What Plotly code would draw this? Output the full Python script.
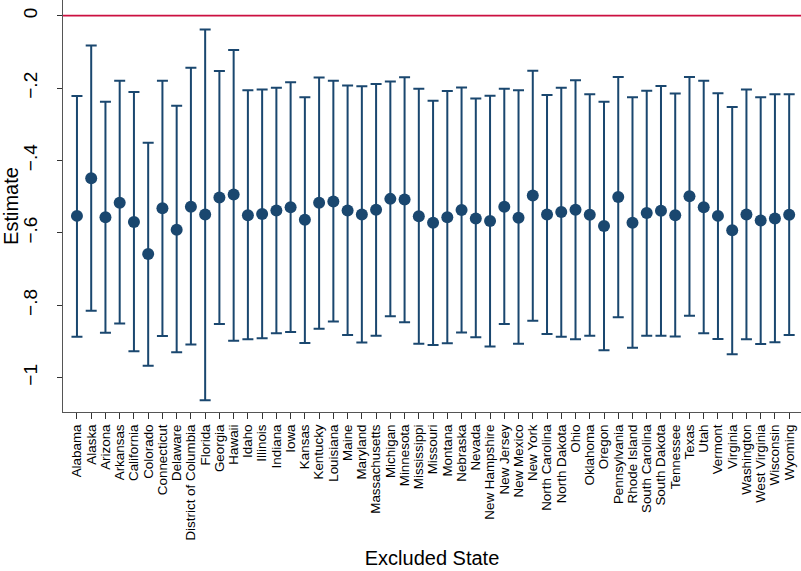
import plotly.graph_objects as go

# Leave-one-state-out estimates with 95% confidence intervals
states = [
    "Alabama", "Alaska", "Arizona", "Arkansas", "California", "Colorado",
    "Connecticut", "Delaware", "District of Columbia", "Florida", "Georgia",
    "Hawaii", "Idaho", "Illinois", "Indiana", "Iowa", "Kansas", "Kentucky",
    "Louisiana", "Maine", "Maryland", "Massachusetts", "Michigan", "Minnesota",
    "Mississippi", "Missouri", "Montana", "Nebraska", "Nevada", "New Hampshire",
    "New Jersey", "New Mexico", "New York", "North Carolina", "North Dakota",
    "Ohio", "Oklahoma", "Oregon", "Pennsylvania", "Rhode Island",
    "South Carolina", "South Dakota", "Tennessee", "Texas", "Utah", "Vermont",
    "Virginia", "Washington", "West Virginia", "Wisconsin", "Wyoming",
]

estimate = [
    -0.553, -0.449, -0.557, -0.517, -0.570, -0.658,
    -0.532, -0.591, -0.528, -0.549, -0.502,
    -0.494, -0.551, -0.548, -0.538, -0.529, -0.564, -0.517,
    -0.513, -0.538, -0.549, -0.536, -0.506, -0.508,
    -0.554, -0.572, -0.557, -0.537, -0.560, -0.567,
    -0.528, -0.558, -0.497, -0.549, -0.542,
    -0.536, -0.550, -0.581, -0.501, -0.572,
    -0.545, -0.539, -0.551, -0.499, -0.529, -0.553,
    -0.593, -0.549, -0.566, -0.560, -0.550,
]

ci_upper = [
    -0.222, -0.082, -0.238, -0.180, -0.211, -0.351,
    -0.180, -0.249, -0.144, -0.038, -0.153,
    -0.095, -0.206, -0.204, -0.199, -0.184, -0.225, -0.171,
    -0.180, -0.193, -0.195, -0.189, -0.182, -0.170,
    -0.202, -0.235, -0.208, -0.198, -0.229, -0.221,
    -0.202, -0.206, -0.152, -0.219, -0.199,
    -0.178, -0.217, -0.238, -0.169, -0.225,
    -0.207, -0.194, -0.215, -0.169, -0.180, -0.214,
    -0.252, -0.204, -0.225, -0.217, -0.217,
]

ci_lower = [
    -0.887, -0.815, -0.876, -0.850, -0.927, -0.967,
    -0.885, -0.930, -0.908, -1.062, -0.852,
    -0.898, -0.894, -0.891, -0.877, -0.874, -0.904, -0.865,
    -0.845, -0.882, -0.903, -0.884, -0.830, -0.847,
    -0.906, -0.910, -0.905, -0.875, -0.888, -0.914,
    -0.852, -0.906, -0.843, -0.879, -0.887,
    -0.894, -0.884, -0.924, -0.833, -0.917,
    -0.884, -0.884, -0.886, -0.829, -0.877, -0.893,
    -0.935, -0.894, -0.907, -0.902, -0.882,
]

y_tickvals = [0, -0.2, -0.4, -0.6, -0.8, -1]
y_ticktext = ["0", "\u2212.2", "\u2212.4", "\u2212.6", "\u2212.8", "\u22121"]

NAVY = "#1a476f"
CRANBERRY = "#cc1040"
FONT = "Liberation Sans, Arial, Helvetica, sans-serif"

err_plus = [u - e for u, e in zip(ci_upper, estimate)]
err_minus = [e - l for e, l in zip(estimate, ci_lower)]

fig = go.Figure()
fig.add_trace(go.Scatter(
    x=states,
    y=estimate,
    mode="markers",
    marker=dict(color=NAVY, size=12, line=dict(width=0)),
    error_y=dict(
        type="data",
        symmetric=False,
        array=err_plus,
        arrayminus=err_minus,
        color=NAVY,
        thickness=2,
        width=5.5,
    ),
    showlegend=False,
))

# Reference line at zero
fig.add_shape(
    type="line", xref="paper", yref="y",
    x0=0, x1=1, y0=0, y1=0,
    line=dict(color=CRANBERRY, width=1.8),
)

fig.update_layout(
    width=801,
    height=571,
    margin=dict(l=63, r=0, t=0, b=159, pad=0),
    paper_bgcolor="white",
    plot_bgcolor="white",
    font=dict(family=FONT, color="black"),
    xaxis=dict(
        type="category",
        range=[-0.98, 50.83],
        tickmode="linear",
        tick0=0,
        dtick=1,
        tickangle=-90,
        tickfont=dict(size=13.4),
        ticks="outside",
        ticklen=6,
        tickwidth=1,
        tickcolor="#333333",
        showline=True,
        linecolor="#555555",
        linewidth=1.2,
        showgrid=False,
        zeroline=False,
        title=dict(text="Excluded State", font=dict(size=20), standoff=11),
        automargin=False,
    ),
    yaxis=dict(
        range=[-1.0948, 0.0434],
        tickvals=y_tickvals,
        ticktext=y_ticktext,
        tickangle=-90,
        tickfont=dict(size=19),
        ticks="outside",
        ticklen=5,
        tickwidth=1,
        tickcolor="#333333",
        ticklabelstandoff=12,
        showline=True,
        linecolor="#555555",
        linewidth=1.2,
        showgrid=False,
        zeroline=False,
        title=dict(text="Estimate", font=dict(size=20), standoff=6),
        automargin=False,
    ),
)

fig.write_html("out.html")
